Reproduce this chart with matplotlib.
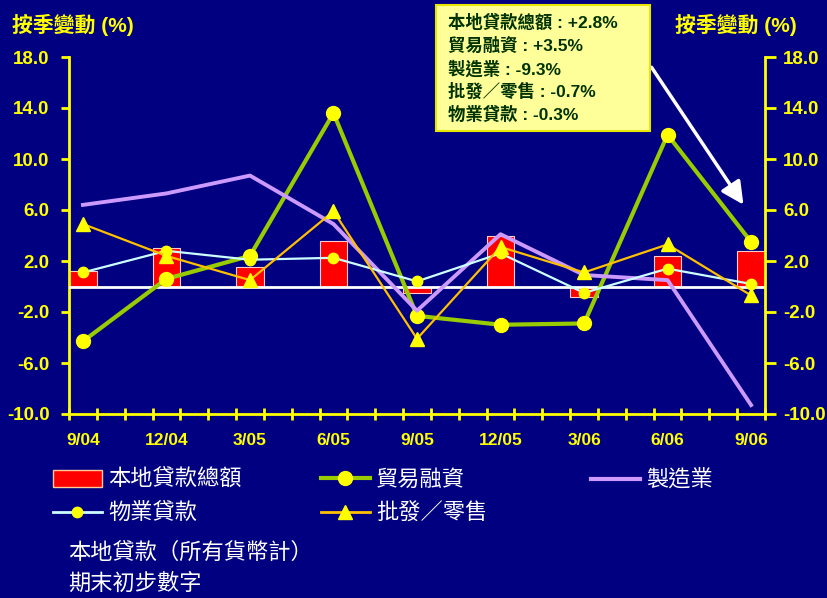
import numpy as np
import matplotlib
matplotlib.use('Agg')
import matplotlib.pyplot as plt
from matplotlib.patches import Rectangle
from matplotlib.lines import Line2D
from matplotlib.ticker import FixedLocator, FormatStrFormatter

plt.rcParams['font.family'] = ['Liberation Sans', 'Noto Sans CJK TC', 'DejaVu Sans']

# data (quarter-on-quarter change, %)
quarters = ['9/04', '12/04', '3/05', '6/05', '9/05', '12/05', '3/06', '6/06', '9/06']
total_loans = [1.2, 3.0, 1.5, 3.6, -0.5, 4.0, -0.8, 2.4, 2.8]
trade_finance = [-4.3, 0.6, 2.4, 13.6, -2.3, -3.0, -2.9, 11.9, 3.5]
manufacturing = [6.4, 7.3, 8.7, 4.9, -1.9, 4.1, 0.9, 0.5, -9.3]
property_loans = [1.1, 2.8, 2.1, 2.25, 0.4, 2.6, -0.5, 1.4, 0.2]
wholesale_retail = [4.9, 2.4, 0.5, 5.9, -4.1, 3.1, 1.1, 3.3, -0.7]
y_ticks = [-10, -6, -2, 2, 6, 10, 14, 18]
latest_text = ['本地貸款總額 : +2.8%', '貿易融資 : +3.5%', '製造業 : -9.3%',
               '批發／零售 : -0.7%', '物業貸款 : -0.3%']

navy = '#000080'
yellow = '#FFFF00'

fig = plt.figure(figsize=(8.28, 5.98), dpi=100, facecolor=navy)
ax = fig.add_axes([69/828, 1-414/598, 696/828, 357/598], facecolor=navy)
x = np.arange(len(quarters))

ax.bar(x, total_loans, width=0.33, color='#FF0000', edgecolor='#FFCCCC', linewidth=0.8, zorder=2)
ax.axhline(0, color='white', lw=2, zorder=3)
ax.plot(x, trade_finance, color='#99CC00', lw=3, marker='o', ms=10,
        mfc=yellow, mec=yellow, zorder=4)
ax.plot(x, manufacturing, color='#CC99FF', lw=2.8, zorder=4)
ax.plot(x, property_loans, color='#CCFFFF', lw=1.6, marker='o', ms=7.5,
        mfc=yellow, mec=yellow, zorder=4)
ax.plot(x, wholesale_retail, color='#FFC000', lw=1.6, marker='^', ms=10,
        mfc=yellow, mec=yellow, zorder=5)

ax.set_xlim(-1/6, 8 + 1/6)
ax.set_ylim(-10, 18)
ax.yaxis.set_major_locator(FixedLocator(y_ticks))
ax.yaxis.set_major_formatter(FormatStrFormatter('%.1f'))

for s in ['top', 'right']:
    ax.spines[s].set_visible(False)
for s in ['left', 'bottom']:
    ax.spines[s].set_color(yellow)
    ax.spines[s].set_linewidth(2)

ax.set_xticks(x)
ax.set_xticklabels(quarters)
ax.xaxis.set_minor_locator(FixedLocator(np.arange(-1/6, 8.2, 1/3)))
ax.tick_params(axis='x', which='major', length=0, pad=14, labelsize=12.5,
               labelcolor=yellow)
ax.tick_params(axis='x', which='minor', length=9, width=2, direction='inout', color=yellow)
ax.tick_params(axis='y', length=6, width=2, color=yellow, labelcolor=yellow,
               labelsize=13.5, pad=8)
for lab in ax.get_xticklabels() + ax.get_yticklabels():
    lab.set_fontweight('bold')

ax2 = ax.twinx()
ax2.set_ylim(-10, 18)
ax2.yaxis.set_major_locator(FixedLocator(y_ticks))
ax2.yaxis.set_major_formatter(FormatStrFormatter('%.1f'))
for s in ['top', 'left', 'bottom']:
    ax2.spines[s].set_visible(False)
ax2.spines['right'].set_color(yellow)
ax2.spines['right'].set_linewidth(2)
ax2.tick_params(axis='y', length=8, width=2, color=yellow, labelcolor=yellow,
                labelsize=13.5, pad=5)
for lab in ax2.get_yticklabels():
    lab.set_fontweight('bold')

fig.text(12/828, 1-25/598, '按季變動 (%)', color=yellow, fontsize=15,
         fontweight='bold', va='center', ha='left')
fig.text(675/828, 1-25/598, '按季變動 (%)', color=yellow, fontsize=15,
         fontweight='bold', va='center', ha='left')

# latest-quarter box
fig.patches.append(Rectangle((436/828, 1-131/598), 214/828, 126/598,
                             transform=fig.transFigure, facecolor='#FFFF99',
                             edgecolor='#E6E600', lw=1.5, zorder=1))
for i, t in enumerate(latest_text):
    fig.text(448/828, 1-(22 + 23.2*i)/598, t, color='#003300', fontsize=12.5,
             fontweight='bold', va='center', ha='left', zorder=2)
ax.annotate('', xy=(745/828, 1-207/598), xycoords='figure fraction',
            xytext=(650/828, 1-65/598), textcoords='figure fraction',
            arrowprops=dict(arrowstyle='-|>', color='white', lw=2.5,
                            mutation_scale=34), annotation_clip=False)

# legend, drawn as three columns
h_bar = Rectangle((0, 0), 1, 1, facecolor='#FF0000', edgecolor='#FFCC99', lw=1)
h_trade = Line2D([], [], color='#99CC00', lw=3, marker='o', ms=10, mfc=yellow, mec=yellow)
h_manu = Line2D([], [], color='#CC99FF', lw=3)
h_prop = Line2D([], [], color='#CCFFFF', lw=2, marker='o', ms=7.5, mfc=yellow, mec=yellow)
h_whole = Line2D([], [], color='#FFC000', lw=2, marker='^', ms=10, mfc=yellow, mec=yellow)
cols = [([h_bar, h_prop], ['本地貸款總額', '物業貸款'], 53),
        ([h_trade, h_whole], ['貿易融資', '批發／零售'], 321),
        ([h_manu], ['製造業'], 591)]
for handles, labels, xpix in cols:
    leg = fig.legend(handles, labels, loc='upper left',
                     bbox_to_anchor=(xpix/828, 1-470/598), frameon=False,
                     fontsize=16, handlelength=2.2, handleheight=0.75,
                     handletextpad=0.27, labelspacing=0.58, borderpad=0,
                     borderaxespad=0)
    for t in leg.get_texts():
        t.set_color('white')

fig.text(68/828, 1-553/598, '本地貸款（所有貨幣計）', color='white', fontsize=16,
         va='center', ha='left')
fig.text(68/828, 1-584/598, '期末初步數字', color='white', fontsize=16,
         va='center', ha='left')

fig.savefig('out.png', dpi=100, facecolor=navy)
